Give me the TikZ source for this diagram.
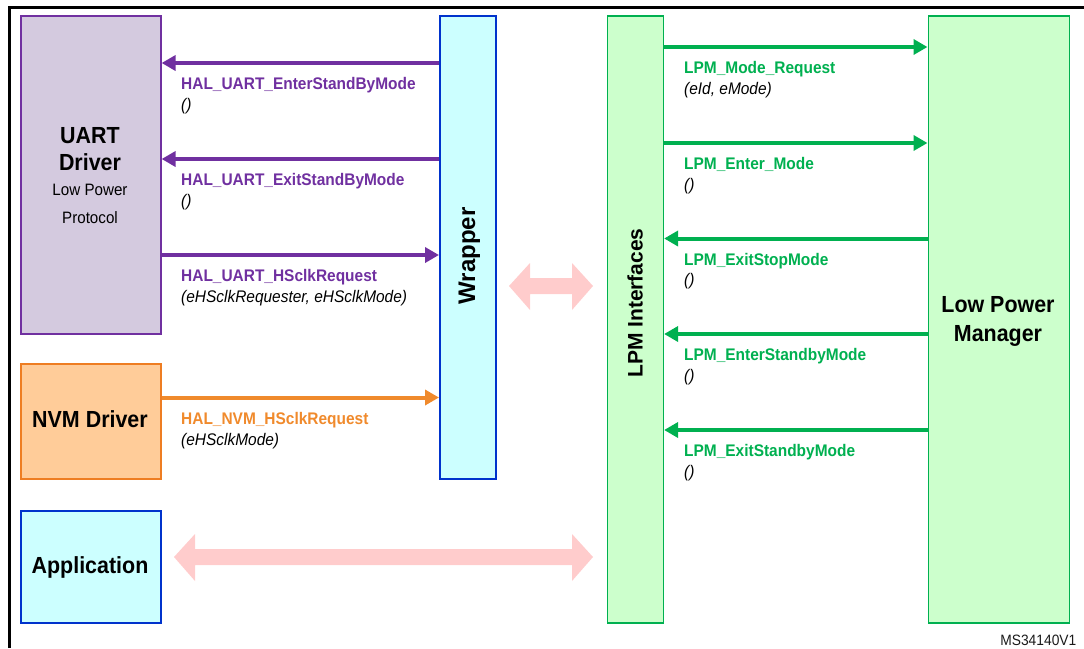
\documentclass[tikz,border=0pt]{standalone}
\usepackage{fontspec}
\setmainfont[FakeStretch=0.92]{Liberation Sans}
\newfontfamily\uprightsans{Liberation Sans}
\usetikzlibrary{arrows.meta}

\definecolor{uartPurple}{HTML}{7030A0}
\definecolor{uartFill}{HTML}{D4CADF}
\definecolor{wrapBlue}{HTML}{0033CC}
\definecolor{cyanFill}{HTML}{CCFFFF}
\definecolor{nvmOrange}{HTML}{EE7D22}
\definecolor{nvmFill}{HTML}{FFCC99}
\definecolor{arrOrange}{HTML}{F08A2C}
\definecolor{lpmGreen}{HTML}{00B050}
\definecolor{lpmFill}{HTML}{CCFFCC}
\definecolor{linkPink}{HTML}{FFCCCC}
\definecolor{refGray}{HTML}{1A1A1A}

\tikzset{
  block/.style={draw, line width=1.6pt, inner sep=0pt, anchor=north west},
  fnlabel/.style={anchor=base west, inner sep=0pt, font=\bfseries\fontsize{16.8}{20}\selectfont},
  fnargs/.style={anchor=base west, inner sep=0pt, text=black, font=\itshape\fontsize{16.8}{20}\selectfont},
  bigname/.style={anchor=base, inner sep=0pt, font=\bfseries\fontsize{23.3}{27}\selectfont},
  smallname/.style={anchor=base, inner sep=0pt, font=\fontsize{16.5}{20}\selectfont},
  call/.style={line width=4pt, -{Triangle[length=14pt,width=15pt]}},
  link/.style={fill=linkPink, draw=none}
}

\begin{document}
\begin{tikzpicture}[x=1pt, y=-1pt]
\useasboundingbox (0,0) rectangle (1084,648);

% frame edges
\draw[line width=2.3pt] (9.5,648) -- (9.5,7.5) -- (1084,7.5);

% blocks
\node[block, draw=uartPurple, fill=uartFill, minimum width=140pt, minimum height=318pt] (uart) at (20,15) {};
\node[block, draw=wrapBlue, fill=cyanFill, minimum width=56pt, minimum height=463pt] (wrap) at (439,15) {};
\node[block, draw=nvmOrange, fill=nvmFill, minimum width=140pt, minimum height=115pt] (nvm) at (20,363) {};
\node[block, draw=wrapBlue, fill=cyanFill, minimum width=140pt, minimum height=112pt] (app) at (20,510) {};
\node[block, draw=lpmGreen, fill=lpmFill, minimum width=56pt, minimum height=607pt] (lpmi) at (606.5,15) {};
\node[block, draw=lpmGreen, fill=lpmFill, minimum width=141pt, minimum height=607pt] (lpm) at (927.5,15) {};

% block titles
\node[bigname] (uartA) at (90,143) {UART};
\node[bigname] (uartB) at (90,170) {Driver};
\node[smallname] (uartC) at (90,195) {Low Power};
\node[smallname] (uartD) at (90,223) {Protocol};
\node[bigname] (nvmT) at (90,427) {NVM Driver};
\node[bigname] (appT) at (90,573) {Application};
\node[bigname] (lpmA) at (998,312) {Low Power};
\node[bigname] (lpmB) at (998,341) {Manager};
\node[rotate=90, anchor=base, inner sep=0pt, font=\uprightsans\bfseries\fontsize{24}{28}\selectfont] (wrapT) at (475,256) {Wrapper};
\node[rotate=90, anchor=base, inner sep=0pt, font=\uprightsans\bfseries\fontsize{21}{25}\selectfont] (lpmiT) at (642.5,303) {LPM Interfaces};

% call rows
\coordinate (p1) at (0,63);
\coordinate (p2) at (0,159);
\coordinate (p3) at (0,255);
\coordinate (o1) at (0,397.5);
\coordinate (g1) at (0,47);
\coordinate (g2) at (0,143);
\coordinate (g3) at (0,238.5);
\coordinate (g4) at (0,334);
\coordinate (g5) at (0,430);

% UART driver calls
\draw[call, uartPurple] (wrap.west |- p1) -- (uart.east |- p1);
\draw[call, uartPurple] (wrap.west |- p2) -- (uart.east |- p2);
\draw[call, uartPurple] (uart.east |- p3) -- (wrap.west |- p3);
\node[fnlabel, text=uartPurple] (l1) at (181,89.5) {HAL\_UART\_EnterStandByMode};
\node[fnargs] (a1) at (181,110) {()};
\node[fnlabel, text=uartPurple] (l2) at (181,185.5) {HAL\_UART\_ExitStandByMode};
\node[fnargs] (a2) at (181,206) {()};
\node[fnlabel, text=uartPurple] (l3) at (181,281.5) {HAL\_UART\_HSclkRequest};
\node[fnargs] (a3) at (181,302) {(eHSclkRequester, eHSclkMode)};

% NVM driver call
\draw[call, arrOrange] (nvm.east |- o1) -- (wrap.west |- o1);
\node[fnlabel, text=arrOrange] (l4) at (181,424) {HAL\_NVM\_HSclkRequest};
\node[fnargs] (a4) at (181,445) {(eHSclkMode)};

% LPM calls
\draw[call, lpmGreen] (lpmi.east |- g1) -- (lpm.west |- g1);
\draw[call, lpmGreen] (lpmi.east |- g2) -- (lpm.west |- g2);
\draw[call, lpmGreen] (lpm.west |- g3) -- (lpmi.east |- g3);
\draw[call, lpmGreen] (lpm.west |- g4) -- (lpmi.east |- g4);
\draw[call, lpmGreen] (lpm.west |- g5) -- (lpmi.east |- g5);
\node[fnlabel, text=lpmGreen] (m1) at (684,73.5) {LPM\_Mode\_Request};
\node[fnargs] (b1) at (684,94) {(eId, eMode)};
\node[fnlabel, text=lpmGreen] (m2) at (684,169.5) {LPM\_Enter\_Mode};
\node[fnargs] (b2) at (684,190) {()};
\node[fnlabel, text=lpmGreen] (m3) at (684,265) {LPM\_ExitStopMode};
\node[fnargs] (b3) at (684,285.5) {()};
\node[fnlabel, text=lpmGreen] (m4) at (684,360.5) {LPM\_EnterStandbyMode};
\node[fnargs] (b4) at (684,381) {()};
\node[fnlabel, text=lpmGreen] (m5) at (684,456.5) {LPM\_ExitStandbyMode};
\node[fnargs] (b5) at (684,477) {()};

% block arrows between layers
\fill[link] (509,286) -- (530,263) -- (530,278) -- (572,278) -- (572,263) -- (593,286)
  -- (572,310) -- (572,294) -- (530,294) -- (530,310) -- cycle;
\fill[link] (174,557) -- (195,534) -- (195,549) -- (572,549) -- (572,534) -- (593,557)
  -- (572,581) -- (572,565) -- (195,565) -- (195,581) -- cycle;

% reference tag
\node[anchor=base east, inner sep=0pt, text=refGray, font=\fontsize{15}{18}\selectfont] (tag) at (1076.5,645) {MS34140V1};
\end{tikzpicture}
\end{document}
